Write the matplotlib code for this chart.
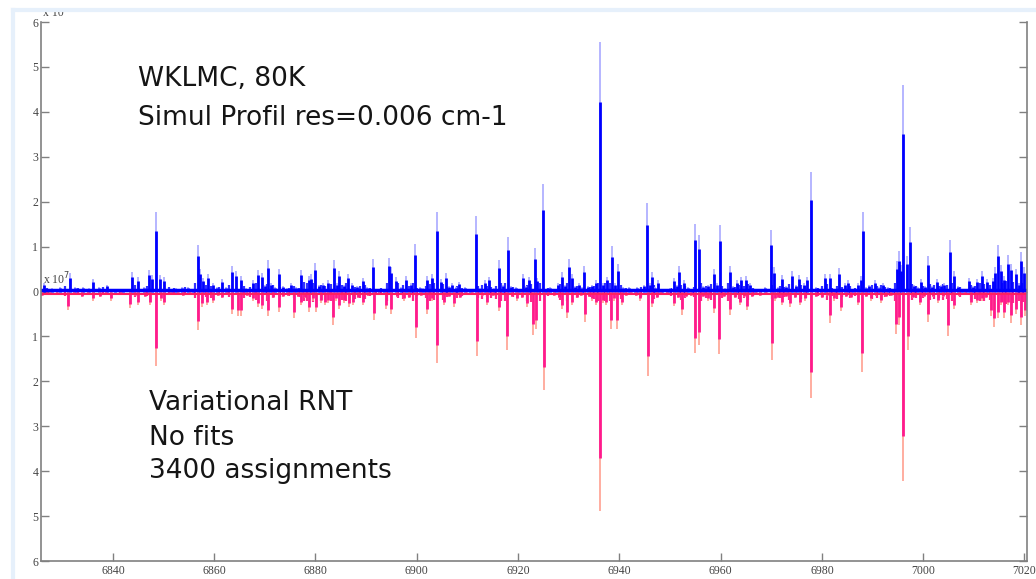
import numpy as np
import matplotlib
matplotlib.use("Agg")
import matplotlib.pyplot as plt
from matplotlib.lines import Line2D

# upper trace (simulated profile), line positions in cm-1 and intensities
up_pos = [6826.3, 6828.0, 6829.5, 6831.5, 6832.6, 6834.1, 6835.2, 6836.1, 6837.3, 6838.8,
          6840.5, 6842.0, 6843.7, 6845.0, 6846.2, 6847.2, 6847.8, 6848.6, 6849.3, 6850.1,
          6851.5, 6852.5, 6853.6, 6854.9, 6855.8, 6856.7, 6857.2, 6857.8, 6858.8, 6859.8,
          6860.6, 6861.5, 6862.4, 6863.6, 6864.4, 6865.2, 6866.3, 6867.6, 6868.7, 6869.4,
          6870.0, 6870.7, 6871.2, 6872.0, 6872.7, 6873.5, 6874.3, 6875.2, 6876.2, 6877.2,
          6878.7, 6879.1, 6880.0, 6880.6, 6881.4, 6882.5, 6883.6, 6884.2, 6884.7, 6885.6,
          6886.5, 6887.3, 6888.2, 6889.3, 6890.2, 6891.4, 6892.5, 6893.5, 6894.6, 6895.0,
          6895.9, 6896.8, 6897.9, 6898.9, 6899.7, 6900.6, 6901.3, 6902.0, 6903.1, 6904.0,
          6904.7, 6905.7, 6906.4, 6907.0, 6907.8, 6908.4, 6909.6, 6910.5, 6911.6, 6912.5,
          6913.4, 6914.2, 6915.2, 6916.3, 6917.0, 6918.0, 6918.6, 6919.5, 6920.2, 6920.9,
          6921.5, 6922.1, 6923.3, 6923.8, 6924.9, 6925.6, 6926.4, 6927.2, 6927.9, 6928.7,
          6929.3, 6930.0, 6930.7, 6931.3, 6932.0, 6932.6, 6933.1, 6933.8, 6934.6, 6935.4,
          6936.1, 6936.8, 6937.6, 6938.6, 6939.2, 6939.8, 6940.8, 6941.9, 6943.0, 6943.5,
          6944.8, 6945.4, 6946.0, 6946.4, 6947.0, 6947.7, 6948.5, 6949.4, 6950.0, 6950.7,
          6951.3, 6951.8, 6952.7, 6953.5, 6954.3, 6955.0, 6955.7, 6956.5, 6957.6, 6958.6,
          6959.2, 6959.8, 6960.8, 6961.9, 6962.5, 6963.2, 6964.1, 6965.0, 6965.8, 6966.8,
          6967.8, 6968.8, 6969.9, 6970.6, 6971.3, 6972.1, 6973.0, 6974.1, 6974.8, 6975.4,
          6976.4, 6977.0, 6977.8, 6978.9, 6979.8, 6980.6, 6981.6, 6982.5, 6983.4, 6984.6,
          6985.1, 6986.0, 6987.1, 6987.7, 6988.1, 6988.8, 6989.4, 6990.4, 6991.2, 6992.0,
          6993.0, 6994.0, 6994.8, 6995.3, 6995.7, 6996.1, 6996.9, 6997.3, 6998.2, 6999.0,
          6999.6, 7000.3, 7000.9, 7001.8, 7002.7, 7003.5, 7004.2, 7005.2, 7006.1, 7006.8,
          7007.6, 7008.4, 7009.1, 7009.8, 7010.7, 7011.7, 7012.6, 7013.7, 7014.2, 7014.7,
          7015.4, 7016.0, 7016.8, 7017.3, 7018.3, 7018.9, 7019.4, 7020.0]
up_int = [0.19, 0.08, 0.10, 0.41, 0.10, 0.11, 0.08, 0.27, 0.10, 0.15,
          0.06, 0.05, 0.44, 0.32, 0.10, 0.47, 0.37, 1.78, 0.37, 0.32,
          0.06, 0.08, 0.11, 0.10, 0.06, 1.04, 0.50, 0.30, 0.39, 0.20,
          0.10, 0.27, 0.10, 0.57, 0.45, 0.35, 0.08, 0.25, 0.47, 0.42,
          0.15, 0.70, 0.20, 0.10, 0.50, 0.12, 0.08, 0.20, 0.10, 0.48,
          0.35, 0.38, 0.64, 0.15, 0.20, 0.25, 0.70, 0.20, 0.45, 0.15,
          0.40, 0.20, 0.12, 0.30, 0.10, 0.73, 0.05, 0.06, 0.74, 0.55,
          0.32, 0.10, 0.35, 0.20, 1.06, 0.10, 0.08, 0.35, 0.40, 1.78,
          0.28, 0.41, 0.12, 0.20, 0.10, 0.22, 0.10, 0.05, 1.68, 0.08,
          0.25, 0.33, 0.08, 0.70, 0.15, 1.22, 0.12, 0.10, 0.06, 0.39,
          0.12, 0.33, 0.96, 0.30, 2.39, 0.06, 0.10, 0.06, 0.20, 0.44,
          0.15, 0.72, 0.40, 0.12, 0.20, 0.10, 0.56, 0.12, 0.15, 0.25,
          5.56, 0.20, 0.33, 1.01, 0.20, 0.61, 0.10, 0.10, 0.06, 0.10,
          0.15, 1.96, 0.20, 0.44, 0.10, 0.25, 0.06, 0.05, 0.08, 0.30,
          0.15, 0.56, 0.25, 0.10, 0.06, 1.50, 1.26, 0.12, 0.15, 0.50,
          0.20, 1.48, 0.08, 0.56, 0.12, 0.25, 0.33, 0.35, 0.20, 0.05,
          0.06, 0.10, 1.37, 0.54, 0.10, 0.37, 0.12, 0.45, 0.15, 0.37,
          0.20, 0.33, 2.67, 0.10, 0.06, 0.39, 0.40, 0.06, 0.52, 0.20,
          0.25, 0.06, 0.20, 0.35, 1.78, 0.10, 0.15, 0.25, 0.10, 0.20,
          0.10, 0.06, 0.67, 0.90, 0.60, 4.60, 0.80, 1.44, 0.15, 0.10,
          0.28, 0.12, 0.78, 0.12, 0.28, 0.15, 0.20, 1.15, 0.45, 0.12,
          0.06, 0.05, 0.30, 0.12, 0.28, 0.45, 0.28, 0.30, 0.55, 1.04,
          0.60, 0.35, 0.81, 0.62, 0.50, 0.20, 0.89, 0.55]

# lower trace (variational RNT calculation), plotted downwards
low_pos = [6825.9, 6827.6, 6829.0, 6831.2, 6832.4, 6833.8, 6835.0, 6836.1, 6837.4, 6838.6,
           6839.7, 6841.5, 6843.4, 6844.3, 6845.0, 6846.3, 6847.3, 6848.6, 6849.4, 6850.1,
           6851.4, 6852.8, 6853.9, 6855.2, 6856.7, 6857.5, 6858.5, 6859.8, 6860.8, 6861.5,
           6862.6, 6863.6, 6864.7, 6865.2, 6866.4, 6867.6, 6868.7, 6869.4, 6870.7, 6871.6,
           6872.7, 6873.6, 6874.6, 6875.8, 6876.6, 6877.2, 6878.0, 6878.7, 6879.5, 6880.1,
           6881.0, 6881.8, 6882.5, 6883.4, 6884.0, 6884.7, 6885.6, 6886.6, 6887.4, 6888.4,
           6889.3, 6890.4, 6891.6, 6892.6, 6893.9, 6894.9, 6896.0, 6897.5, 6898.5, 6899.8,
           6900.8, 6902.0, 6903.0, 6904.0, 6905.3, 6906.3, 6907.3, 6908.6, 6909.8, 6911.0,
           6911.9, 6912.8, 6913.9, 6915.0, 6916.2, 6917.8, 6918.8, 6919.8, 6920.8, 6921.8,
           6922.9, 6923.6, 6925.1, 6926.0, 6927.0, 6928.0, 6928.7, 6929.7, 6930.7, 6931.6,
           6932.4, 6933.3, 6934.0, 6934.6, 6935.4, 6936.1, 6936.8, 6937.3, 6938.4, 6939.0,
           6939.6, 6940.5, 6941.4, 6942.4, 6943.3, 6944.1, 6945.6, 6946.4, 6947.4, 6948.3,
           6949.4, 6950.7, 6951.5, 6952.3, 6953.2, 6954.2, 6955.0, 6955.7, 6956.6, 6957.6,
           6958.6, 6959.6, 6960.6, 6961.9, 6962.8, 6963.9, 6964.6, 6965.2, 6966.2, 6967.0,
           6967.8, 6969.0, 6970.1, 6970.8, 6971.4, 6972.1, 6973.0, 6973.7, 6974.6, 6975.7,
           6976.7, 6977.8, 6978.8, 6980.0, 6981.0, 6981.6, 6982.4, 6983.8, 6984.8, 6985.7,
           6986.5, 6987.1, 6987.9, 6988.8, 6989.7, 6990.6, 6991.7, 6992.6, 6993.6, 6994.6,
           6995.3, 6996.1, 6997.1, 6998.0, 6999.4, 7000.2, 7000.9, 7002.0, 7002.9, 7004.0,
           7005.0, 7006.1, 7007.0, 7008.2, 7009.4, 7010.7, 7011.6, 7012.4, 7013.4, 7014.0,
           7014.7, 7015.4, 7016.0, 7016.8, 7017.3, 7018.3, 7019.4, 7020.2]
low_int = [0.10, 0.08, 0.06, 0.41, 0.08, 0.12, 0.08, 0.20, 0.12, 0.06,
           0.20, 0.05, 0.37, 0.10, 0.30, 0.12, 0.30, 1.66, 0.20, 0.30,
           0.06, 0.06, 0.10, 0.06, 0.85, 0.35, 0.30, 0.25, 0.10, 0.15,
           0.08, 0.50, 0.55, 0.54, 0.10, 0.20, 0.35, 0.40, 0.54, 0.15,
           0.45, 0.12, 0.10, 0.59, 0.12, 0.30, 0.15, 0.45, 0.20, 0.45,
           0.25, 0.30, 0.25, 0.74, 0.20, 0.40, 0.25, 0.35, 0.30, 0.15,
           0.30, 0.10, 0.64, 0.06, 0.40, 0.50, 0.12, 0.20, 0.15, 1.04,
           0.10, 0.50, 0.20, 1.58, 0.30, 0.12, 0.35, 0.15, 0.08, 0.06,
           1.44, 0.10, 0.30, 0.10, 0.44, 1.30, 0.12, 0.20, 0.15, 0.35,
           0.96, 0.84, 2.20, 0.08, 0.10, 0.15, 0.40, 0.59, 0.30, 0.15,
           0.10, 0.67, 0.12, 0.20, 0.30, 4.89, 0.25, 0.30, 0.84, 0.20,
           0.84, 0.30, 0.10, 0.06, 0.10, 0.20, 1.89, 0.35, 0.15, 0.08,
           0.06, 0.33, 0.15, 0.52, 0.12, 0.10, 1.37, 1.19, 0.12, 0.20,
           0.48, 1.39, 0.12, 0.52, 0.15, 0.30, 0.12, 0.41, 0.12, 0.06,
           0.10, 0.08, 1.52, 0.20, 0.15, 0.30, 0.12, 0.35, 0.15, 0.30,
           0.20, 2.36, 0.12, 0.15, 0.10, 0.70, 0.20, 0.44, 0.12, 0.15,
           0.06, 0.30, 1.80, 0.12, 0.20, 0.10, 0.25, 0.12, 0.10, 0.94,
           0.75, 4.22, 1.31, 0.15, 0.30, 0.12, 0.67, 0.12, 0.25, 0.12,
           0.99, 0.40, 0.10, 0.06, 0.30, 0.25, 0.20, 0.15, 0.55, 0.79,
           0.60, 0.30, 0.60, 0.30, 0.70, 0.50, 0.74, 0.55]

# weak lines filling the dense background of both traces
weak_pos = [6827.0, 6830.5, 6833.2, 6838.0, 6841.3, 6844.4, 6846.7, 6851.0, 6852.0, 6854.3,
            6856.2, 6858.3, 6859.3, 6861.0, 6863.0, 6865.8, 6867.0, 6868.2, 6870.4, 6871.6,
            6873.0, 6874.8, 6875.8, 6876.7, 6877.8, 6878.3, 6879.6, 6881.0, 6881.9, 6883.0,
            6885.2, 6886.0, 6887.8, 6888.8, 6889.8, 6890.8, 6892.0, 6893.0, 6894.1, 6896.3,
            6897.3, 6898.4, 6899.2, 6900.1, 6901.8, 6902.6, 6903.5, 6905.2, 6906.0, 6908.0,
            6909.0, 6912.0, 6912.9, 6913.9, 6914.7, 6915.7, 6916.7, 6917.5, 6919.0, 6921.8,
            6922.6, 6924.3, 6926.0, 6928.2, 6929.7, 6931.7, 6934.2, 6935.0, 6935.8, 6937.2,
            6938.2, 6940.3, 6941.4, 6944.2, 6946.8, 6948.2, 6950.3, 6952.2, 6953.0, 6954.7,
            6956.1, 6957.1, 6958.1, 6960.3, 6961.4, 6962.9, 6963.7, 6964.6, 6965.4, 6966.3,
            6970.2, 6971.7, 6972.6, 6973.6, 6975.9, 6976.8, 6979.3, 6980.1, 6981.1, 6982.0,
            6983.0, 6984.0, 6985.6, 6986.6, 6989.9, 6990.8, 6991.6, 6992.5, 6993.5, 6994.4,
            6997.8, 6998.6, 7000.0, 7001.3, 7002.2, 7003.1, 7003.9, 7004.7, 7005.7, 7007.2,
            7009.5, 7010.3, 7011.2, 7012.1, 7013.2, 7015.7, 7016.4, 7017.8, 7019.0, 7019.8]
weak_up_int = [0.08, 0.12, 0.07, 0.10, 0.06, 0.15, 0.12, 0.10, 0.07, 0.09,
               0.18, 0.15, 0.12, 0.10, 0.14, 0.12, 0.10, 0.20, 0.16, 0.14,
               0.10, 0.08, 0.12, 0.08, 0.22, 0.18, 0.20, 0.14, 0.12, 0.16,
               0.14, 0.18, 0.10, 0.12, 0.14, 0.08, 0.06, 0.08, 0.20, 0.18,
               0.14, 0.12, 0.18, 0.08, 0.12, 0.16, 0.18, 0.16, 0.10, 0.12,
               0.08, 0.12, 0.14, 0.12, 0.10, 0.12, 0.18, 0.20, 0.10, 0.14,
               0.16, 0.20, 0.08, 0.16, 0.18, 0.12, 0.10, 0.12, 0.20, 0.18,
               0.20, 0.14, 0.08, 0.10, 0.14, 0.06, 0.08, 0.14, 0.12, 0.10,
               0.18, 0.12, 0.16, 0.12, 0.18, 0.10, 0.14, 0.12, 0.16, 0.08,
               0.14, 0.12, 0.10, 0.16, 0.14, 0.12, 0.08, 0.12, 0.16, 0.08,
               0.12, 0.10, 0.12, 0.08, 0.14, 0.12, 0.14, 0.10, 0.08, 0.20,
               0.16, 0.12, 0.12, 0.16, 0.14, 0.12, 0.16, 0.14, 0.18, 0.10,
               0.14, 0.12, 0.18, 0.16, 0.14, 0.20, 0.24, 0.22, 0.18, 0.20]
weak_low_int = [0.06, 0.10, 0.08, 0.08, 0.05, 0.12, 0.10, 0.08, 0.06, 0.08,
                0.15, 0.12, 0.14, 0.08, 0.12, 0.15, 0.12, 0.18, 0.20, 0.15,
                0.12, 0.10, 0.14, 0.12, 0.20, 0.22, 0.24, 0.20, 0.18, 0.22,
                0.18, 0.20, 0.16, 0.14, 0.16, 0.10, 0.06, 0.08, 0.22, 0.14,
                0.16, 0.12, 0.20, 0.10, 0.14, 0.20, 0.18, 0.18, 0.12, 0.14,
                0.10, 0.14, 0.16, 0.12, 0.14, 0.16, 0.20, 0.22, 0.12, 0.20,
                0.24, 0.20, 0.10, 0.18, 0.22, 0.14, 0.12, 0.16, 0.22, 0.20,
                0.22, 0.16, 0.08, 0.12, 0.16, 0.08, 0.10, 0.18, 0.14, 0.12,
                0.20, 0.14, 0.18, 0.14, 0.22, 0.12, 0.16, 0.14, 0.18, 0.10,
                0.16, 0.14, 0.12, 0.18, 0.16, 0.14, 0.10, 0.12, 0.18, 0.10,
                0.16, 0.12, 0.14, 0.10, 0.16, 0.14, 0.16, 0.12, 0.10, 0.22,
                0.18, 0.14, 0.14, 0.18, 0.16, 0.14, 0.18, 0.16, 0.20, 0.12,
                0.18, 0.16, 0.22, 0.20, 0.18, 0.24, 0.28, 0.26, 0.22, 0.24]

x_ticks = [6840, 6860, 6880, 6900, 6920, 6940, 6960, 6980, 7000, 7020]
y_ticks = [-6, -5, -4, -3, -2, -1, 0, 1, 2, 3, 4, 5, 6]

up_pos = np.array(up_pos)
up_int = np.array(up_int)
low_pos = np.array(low_pos)
low_int = np.array(low_int)
weak_pos = np.array(weak_pos)
weak_up_int = np.array(weak_up_int)
weak_low_int = np.array(weak_low_int)

fig = plt.figure(figsize=(10.36, 5.79), dpi=100)
ax = fig.add_axes([0.0396, 0.031, 0.9517, 0.931])

# faint slide frame
fig.add_artist(Line2D([0.013, 0.013], [0, 0.982], transform=fig.transFigure,
                      color="#e6f0fb", lw=3))
fig.add_artist(Line2D([0.013, 1], [0.982, 0.982], transform=fig.transFigure,
                      color="#e6f0fb", lw=3))

# the sticks: pale tip over full height, saturated body below it
body = 0.76
ax.vlines(weak_pos, 0, weak_up_int, color="#3333ff", lw=1.6)
ax.vlines(weak_pos, 0, -weak_low_int, color="#ff2a8a", lw=1.6)
ax.vlines(up_pos, 0, up_int, color="#a9a9ff", lw=1.2)
ax.vlines(up_pos, 0, up_int * body, color="#0000ff", lw=2.0)
ax.vlines(low_pos, 0, -low_int, color="#ff9f90", lw=1.2)
ax.vlines(low_pos, 0, -low_int * body, color="#ff1a8c", lw=2.0)
ax.axhline(-0.05, color="#ff2060", lw=1.5)
ax.axhline(0.03, color="#0000ff", lw=2.5)

ax.set_xlim(6825.8, 7020.5)
ax.set_ylim(-6, 6)
ax.set_xticks(x_ticks)
ax.set_xticklabels([str(t) for t in x_ticks])
ax.set_yticks(y_ticks)
ax.set_yticklabels([str(abs(t)) for t in y_ticks])

tick_font = {"family": "Liberation Serif", "size": 8.5}
for lab in ax.get_xticklabels() + ax.get_yticklabels():
    lab.set_fontfamily("Liberation Serif")
    lab.set_fontsize(8.5)
    lab.set_color("#444444")

ax.tick_params(axis="both", direction="in", length=6, width=1, color="#808080",
               right=True, top=False, pad=3)
ax.tick_params(axis="y", pad=2)
ax.spines["top"].set_visible(False)
for s in ["left", "right", "bottom"]:
    ax.spines[s].set_color("#808080")
    ax.spines[s].set_linewidth(1.2)

ax.text(0.002, 1.005, "x 10", transform=ax.transAxes, fontdict=tick_font,
        color="#444444", va="bottom")
ax.text(0.002, 0.508, "x 10$^7$", transform=ax.transAxes, fontdict=tick_font,
        color="#444444", va="bottom")

txt = {"family": "DejaVu Sans", "size": 19, "color": "#151515"}
ax.text(0.098, 0.894, "WKLMC, 80K", transform=ax.transAxes, fontdict=txt, va="center")
ax.text(0.098, 0.822, "Simul Profil res=0.006 cm-1", transform=ax.transAxes, fontdict=txt, va="center")
ax.text(0.110, 0.294, "Variational RNT", transform=ax.transAxes, fontdict=txt, va="center")
ax.text(0.110, 0.229, "No fits", transform=ax.transAxes, fontdict=txt, va="center")
ax.text(0.110, 0.167, "3400 assignments", transform=ax.transAxes, fontdict=txt, va="center")

fig.savefig("out.png", dpi=100)
